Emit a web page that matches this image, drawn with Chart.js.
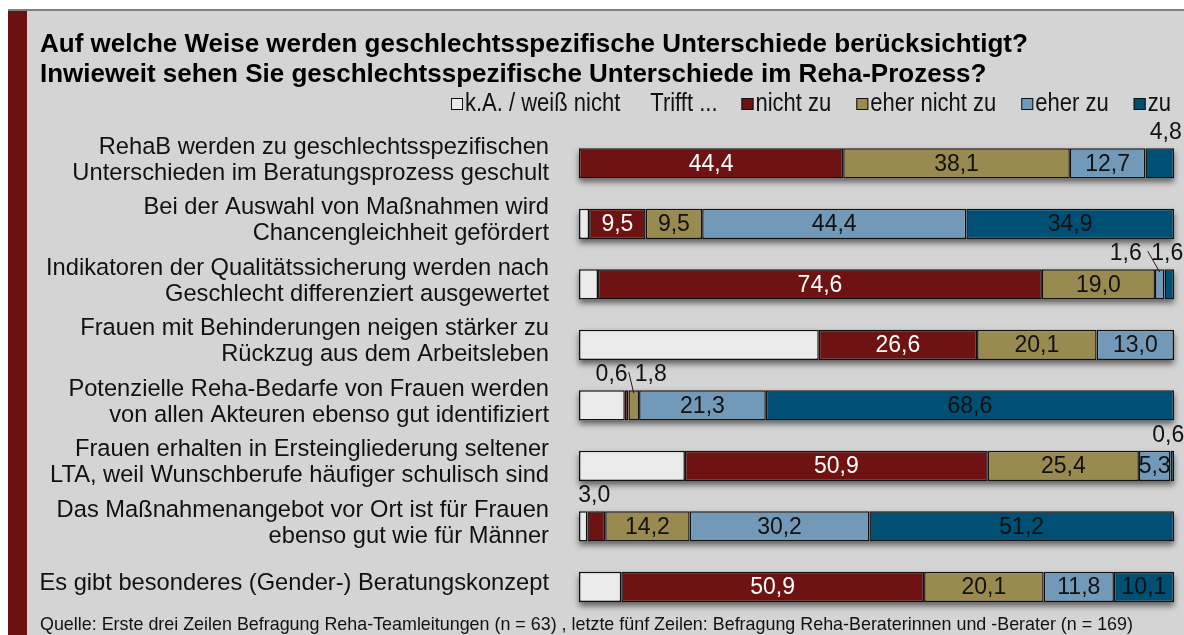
<!DOCTYPE html>
<html lang="de">
<head>
<meta charset="utf-8">
<script src="https://cdn.jsdelivr.net/npm/chart.js@4.4.1/dist/chart.umd.min.js"></script>
<style>
  html, body { margin: 0; padding: 0; background: #fff; }
  #rahmen { width: 1184px; height: 635px; position: relative; }
</style>
</head>
<body>
<div id="rahmen"><canvas id="grafik" width="1184" height="635"></canvas></div>
<script>
// ---- Daten ----
const TITEL = [
  "Auf welche Weise werden geschlechtsspezifische Unterschiede berücksichtigt?",
  "Inwieweit sehen Sie geschlechtsspezifische Unterschiede im Reha-Prozess?"
];
const QUELLE = "Quelle: Erste drei Zeilen Befragung Reha-Teamleitungen (n = 63) , letzte fünf Zeilen: Befragung Reha-Beraterinnen und -Berater (n = 169)";

const AUSSAGEN = [
  ["RehaB werden zu geschlechtsspezifischen", "Unterschieden im Beratungsprozess geschult"],
  ["Bei der Auswahl von Maßnahmen wird", "Chancengleichheit gefördert"],
  ["Indikatoren der Qualitätssicherung werden nach", "Geschlecht differenziert ausgewertet"],
  ["Frauen mit Behinderungen neigen stärker zu", "Rückzug aus dem Arbeitsleben"],
  ["Potenzielle Reha-Bedarfe von Frauen werden", "von allen Akteuren ebenso gut identifiziert"],
  ["Frauen erhalten in Ersteingliederung seltener", "LTA, weil Wunschberufe häufiger schulisch sind"],
  ["Das Maßnahmenangebot vor Ort ist für Frauen", "ebenso gut wie für Männer"],
  "Es gibt besonderes (Gender-) Beratungskonzept"
];

const KATEGORIEN = ["k.A. / weiß nicht", "nicht zu", "eher nicht zu", "eher zu", "zu"];
const LEGENDE_ZUSATZ = "Trifft ...";

const WERTE_KA         = [0.0, 1.7, 3.2, 40.3, 7.7, 17.8, 1.4, 7.1];
const WERTE_NICHT      = [44.4, 9.5, 74.6, 26.6, 0.6, 50.9, 3.0, 50.9];
const WERTE_EHER_NICHT = [38.1, 9.5, 19.0, 20.1, 1.8, 25.4, 14.2, 20.1];
const WERTE_EHER_ZU    = [12.7, 44.4, 1.6, 13.0, 21.3, 5.3, 30.2, 11.8];
const WERTE_ZU         = [4.8, 34.9, 1.6, 0.0, 68.6, 0.6, 51.2, 10.1];

// ---- Darstellung ----
const FARBEN = ["#eaeaea", "#6e1212", "#998a50", "#7399b9", "#004f75"];
const TEXTFARBEN = [null, "#ffffff", "#111111", "#111111", "#111111"];
const HINTERGRUND = "#d4d4d4";
const SCHRIFT = "'Liberation Sans', Arial, sans-serif";

// kleine Segmente werden oberhalb des Balkens beschriftet
const AUSSEN = [
  { zeile: 0, serie: 4, dx: 6 },
  { zeile: 2, serie: 3, dx: -34, linie: true },
  { zeile: 2, serie: 4, dx: -2 },
  { zeile: 4, serie: 1, dx: -15 },
  { zeile: 4, serie: 2, dx: 17, linie: true },
  { zeile: 5, serie: 4, dx: -4 },
  { zeile: 6, serie: 1, dx: -2 }
];

function formatZahl(v) {
  return v.toFixed(1).replace(".", ",");
}

// schmal laufender Text: höhere Schrift, horizontal gestaucht
function schmalerText(c, t, x, y, faktor) {
  c.save();
  c.translate(x, y);
  c.scale(faktor, 1);
  c.fillText(t, 0, 0);
  c.restore();
  return c.measureText(t).width * faktor;
}

/* =======================================
   PLUGINS
======================================= */
const hintergrund = {
  id: "hintergrund",
  beforeDraw(chart) {
    const c = chart.ctx;
    c.save();
    c.fillStyle = "#ffffff";
    c.fillRect(0, 0, chart.width, chart.height);
    c.fillStyle = HINTERGRUND;
    c.fillRect(8, 10, chart.width - 8, chart.height - 10);
    c.fillStyle = "#808080";
    c.fillRect(8, 9, chart.width - 8, 2);
    c.fillStyle = "#6b1111";
    c.fillRect(8, 11, 19, chart.height - 11);
    c.restore();
  }
};

// Schatten unter jedem kompletten Balken
const schatten = {
  id: "schatten",
  beforeDatasetsDraw(chart) {
    const c = chart.ctx;
    const x = chart.scales.x;
    const meta = chart.getDatasetMeta(0);
    c.save();
    c.shadowColor = "rgba(0,0,0,0.55)";
    c.shadowBlur = 6;
    c.shadowOffsetY = 4;
    c.fillStyle = HINTERGRUND;
    meta.data.forEach((bar) => {
      const x0 = x.getPixelForValue(0);
      const x1 = x.getPixelForValue(100);
      c.fillRect(x0, bar.y - bar.height / 2, x1 - x0, bar.height);
    });
    c.restore();
  }
};

const werte = {
  id: "werte",
  afterDatasetsDraw(chart) {
    const c = chart.ctx;
    c.save();
    c.textAlign = "center";
    c.textBaseline = "middle";
    c.font = "23px " + SCHRIFT;
    chart.data.datasets.forEach((ds, s) => {
      if (s === 0) return;
      const meta = chart.getDatasetMeta(s);
      meta.data.forEach((bar, i) => {
        const v = ds.data[i];
        if (v < 5) return;
        const mitte = (bar.x + bar.base) / 2;
        c.fillStyle = TEXTFARBEN[s];
        c.fillText(formatZahl(v), mitte, bar.y + 1);
      });
    });
    // Beschriftungen außerhalb
    AUSSEN.forEach((a) => {
      const bar = chart.getDatasetMeta(a.serie).data[a.zeile];
      const v = chart.data.datasets[a.serie].data[a.zeile];
      const mitte = (bar.x + bar.base) / 2;
      const oben = bar.y - bar.height / 2;
      const lx = mitte + a.dx;
      const ly = oben - 15;
      c.fillStyle = "#111111";
      c.fillText(formatZahl(v), lx, ly);
      if (a.linie) {
        const halb = c.measureText(formatZahl(v)).width / 2;
        const richtung = a.dx < 0 ? 1 : -1;
        c.strokeStyle = "#2a1515";
        c.lineWidth = 1;
        c.beginPath();
        c.moveTo(lx + richtung * (halb + 6), ly - 3);
        c.lineTo(mitte, oben + 3);
        c.stroke();
      }
    });
    c.restore();
  },
  afterDraw(chart) {
    const c = chart.ctx;
    c.save();
    c.fillStyle = "#000000";
    c.textBaseline = "middle";
    c.textAlign = "left";
    c.font = "bold 26px " + SCHRIFT;
    c.fillText(TITEL[0], 40, 45);
    c.fillText(TITEL[1], 40, 75);

    // Legende
    c.font = "25px " + SCHRIFT;
    const stauchung = 0.88;
    let x = 451;
    const y = 104;
    const box = (farbe) => {
      c.fillStyle = farbe;
      c.fillRect(x, y - 6, 12, 12);
      c.strokeStyle = "#111";
      c.lineWidth = 1;
      c.strokeRect(x + 0.5, y - 5.5, 11, 11);
      x += 14;
    };
    const text = (t) => {
      c.fillStyle = "#111";
      x += schmalerText(c, t, x, y, stauchung);
    };
    box(chart.data.datasets[0].backgroundColor);
    text(chart.data.datasets[0].label);
    x += 30;
    text(LEGENDE_ZUSATZ);
    x += 24;
    for (let s = 1; s < chart.data.datasets.length; s++) {
      box(chart.data.datasets[s].backgroundColor);
      text(chart.data.datasets[s].label);
      x += 25;
    }

    c.font = "17.9px " + SCHRIFT;
    c.fillStyle = "#111";
    c.fillText(QUELLE, 40, 625);
    c.restore();
  }
};

/* =======================================
   CHART
======================================= */
const reihen = [WERTE_KA, WERTE_NICHT, WERTE_EHER_NICHT, WERTE_EHER_ZU, WERTE_ZU];

new Chart(document.getElementById("grafik"), {
  type: "bar",
  data: {
    labels: AUSSAGEN,
    datasets: reihen.map((daten, s) => ({
      label: KATEGORIEN[s],
      data: daten,
      backgroundColor: FARBEN[s],
      borderColor: "#111111",
      borderWidth: 1.5,
      borderSkipped: false,
      categoryPercentage: 1,
      barPercentage: 0.5
    }))
  },
  options: {
    responsive: false,
    animation: false,
    indexAxis: "y",
    layout: { padding: { top: 133, bottom: 18, left: 0, right: 10 } },
    scales: {
      x: { stacked: true, min: 0, max: 100, display: false },
      y: {
        stacked: true,
        grid: { display: false },
        border: { display: false },
        ticks: {
          color: "#111111",
          padding: 22,
          labelOffset: -3,
          font: { family: SCHRIFT, size: 23.7, lineHeight: 1.1 }
        },
        afterFit(scale) {
          scale.width = 579;
          // Beschriftungen dürfen über den Diagrammbereich hinausragen
          scale.paddingTop = 0;
          scale.paddingBottom = 0;
        }
      }
    },
    plugins: {
      legend: { display: false },
      tooltip: { enabled: false }
    }
  },
  plugins: [hintergrund, schatten, werte]
});
</script>
</body>
</html>
